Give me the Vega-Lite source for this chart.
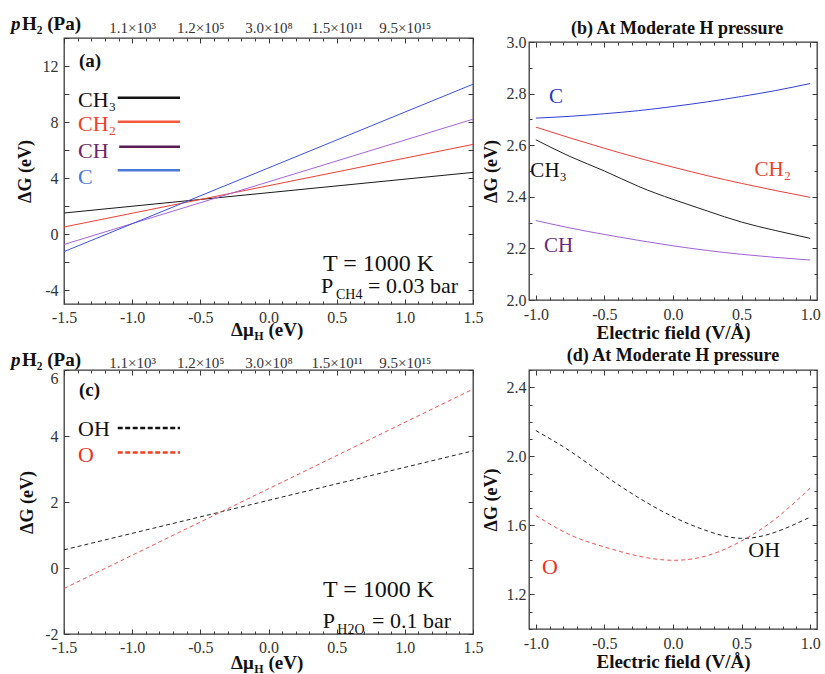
{
  "$schema": "https://vega.github.io/schema/vega-lite/v6.json",
  "background": "white",
  "padding": {"left": 10, "top": 14, "right": 0, "bottom": 0},
  "columns": 2,
  "spacing": {"row": 66, "column": 56},
  "bounds": "flush",
  "center": true,
  "config": {
    "font": "Liberation Serif",
    "view": {"stroke": "#3a3a3a", "strokeWidth": 1.3},
    "style": {
      "guide-label": {"font": "Liberation Serif"},
      "guide-title": {"font": "Liberation Serif"}
    },
    "axis": {
      "domain": false, "grid": false,
      "labelFont": "Liberation Serif", "labelFontSize": 16, "labelColor": "#333",
      "labelOverlap": false, "labelFlush": false,
      "tickColor": "#3a3a3a", "tickWidth": 1,
      "titleFont": "Liberation Serif", "titleFontSize": 18, "titleFontWeight": "bold", "titleColor": "#111"
    },
    "text": {"font": "Liberation Serif"}
  },
  "datasets": {
    "a_lines": [
      {"species": "CH3", "x": -1.5, "y": 1.5}, {"species": "CH3", "x": 1.5, "y": 4.4},
      {"species": "CH2", "x": -1.5, "y": 0.5}, {"species": "CH2", "x": 1.5, "y": 6.4},
      {"species": "CH", "x": -1.5, "y": -0.75}, {"species": "CH", "x": 1.5, "y": 8.2},
      {"species": "C", "x": -1.5, "y": -1.26}, {"species": "C", "x": 1.5, "y": 10.7}
    ],
    "a_key": [
      {"species": "CH3", "x1": -1.106, "x2": -0.649, "y": 9.74},
      {"species": "CH2", "x1": -1.106, "x2": -0.649, "y": 8.02},
      {"species": "CH", "x1": -1.095, "x2": -0.649, "y": 6.24},
      {"species": "C", "x1": -1.106, "x2": -0.649, "y": 4.55}
    ],
    "a_key_text": [
      {"species": "CH3", "text": "CH₃", "x": -1.397, "y": 9.07},
      {"species": "CH2", "text": "CH₂", "x": -1.397, "y": 7.36},
      {"species": "CH", "text": "CH", "x": -1.397, "y": 5.45},
      {"species": "C", "text": "C", "x": -1.397, "y": 3.57}
    ],
    "b_lines": [
      {"species": "C", "x": -1, "y": 2.705}, {"species": "C", "x": -0.75, "y": 2.712}, {"species": "C", "x": -0.5, "y": 2.722},
      {"species": "C", "x": -0.25, "y": 2.734}, {"species": "C", "x": 0, "y": 2.75}, {"species": "C", "x": 0.25, "y": 2.768},
      {"species": "C", "x": 0.5, "y": 2.789}, {"species": "C", "x": 0.75, "y": 2.812}, {"species": "C", "x": 1, "y": 2.839},
      {"species": "CH2", "x": -1, "y": 2.67}, {"species": "CH2", "x": -0.75, "y": 2.628}, {"species": "CH2", "x": -0.5, "y": 2.588},
      {"species": "CH2", "x": -0.25, "y": 2.55}, {"species": "CH2", "x": 0, "y": 2.515}, {"species": "CH2", "x": 0.25, "y": 2.482},
      {"species": "CH2", "x": 0.5, "y": 2.452}, {"species": "CH2", "x": 0.75, "y": 2.424}, {"species": "CH2", "x": 1, "y": 2.398},
      {"species": "CH3", "x": -1, "y": 2.621}, {"species": "CH3", "x": -0.75, "y": 2.556}, {"species": "CH3", "x": -0.5, "y": 2.5},
      {"species": "CH3", "x": -0.25, "y": 2.44}, {"species": "CH3", "x": 0, "y": 2.39}, {"species": "CH3", "x": 0.25, "y": 2.345},
      {"species": "CH3", "x": 0.5, "y": 2.302}, {"species": "CH3", "x": 0.75, "y": 2.269}, {"species": "CH3", "x": 1, "y": 2.239},
      {"species": "CH", "x": -1, "y": 2.308}, {"species": "CH", "x": -0.75, "y": 2.279}, {"species": "CH", "x": -0.5, "y": 2.254},
      {"species": "CH", "x": -0.25, "y": 2.231}, {"species": "CH", "x": 0, "y": 2.21}, {"species": "CH", "x": 0.25, "y": 2.192},
      {"species": "CH", "x": 0.5, "y": 2.177}, {"species": "CH", "x": 0.75, "y": 2.165}, {"species": "CH", "x": 1, "y": 2.155}
    ],
    "b_text": [
      {"species": "C", "text": "C", "x": -0.905, "y": 2.762},
      {"species": "CH3", "text": "CH₃", "x": -1.04, "y": 2.476},
      {"species": "CH2", "text": "CH₂", "x": 0.595, "y": 2.479},
      {"species": "CH", "text": "CH", "x": -0.94, "y": 2.185}
    ],
    "c_lines": [
      {"species": "OH", "x": -1.5, "y": 0.55}, {"species": "OH", "x": 1.5, "y": 3.55},
      {"species": "O", "x": -1.5, "y": -0.62}, {"species": "O", "x": 1.5, "y": 5.42}
    ],
    "c_key": [
      {"species": "OH", "x1": -1.106, "x2": -0.649, "y": 4.24},
      {"species": "O", "x1": -1.106, "x2": -0.649, "y": 3.5}
    ],
    "c_key_text": [
      {"species": "OH", "text": "OH", "x": -1.397, "y": 3.99},
      {"species": "O", "text": "O", "x": -1.397, "y": 3.2}
    ],
    "d_lines": [
      {"species": "OH", "x": -1, "y": 2.149}, {"species": "OH", "x": -0.75, "y": 2.03}, {"species": "OH", "x": -0.5, "y": 1.89},
      {"species": "OH", "x": -0.25, "y": 1.76}, {"species": "OH", "x": 0, "y": 1.65}, {"species": "OH", "x": 0.25, "y": 1.568},
      {"species": "OH", "x": 0.5, "y": 1.525}, {"species": "OH", "x": 0.75, "y": 1.562}, {"species": "OH", "x": 1, "y": 1.648},
      {"species": "O", "x": -1, "y": 1.657}, {"species": "O", "x": -0.75, "y": 1.545}, {"species": "O", "x": -0.5, "y": 1.475},
      {"species": "O", "x": -0.25, "y": 1.422}, {"species": "O", "x": 0, "y": 1.398}, {"species": "O", "x": 0.25, "y": 1.425},
      {"species": "O", "x": 0.5, "y": 1.51}, {"species": "O", "x": 0.75, "y": 1.64}, {"species": "O", "x": 1, "y": 1.816}
    ],
    "d_text": [
      {"species": "O", "text": "O", "x": -0.956, "y": 1.32},
      {"species": "OH", "text": "OH", "x": 0.549, "y": 1.418}
    ]
  },
  "concat": [
    {
      "width": 409, "height": 266,
      "resolve": {"scale": {"color": "independent"}, "axis": {"x": "independent", "y": "independent"}},
      "layer": [
        {
          "data": {"name": "a_lines"},
          "mark": {"type": "line", "strokeWidth": 1},
          "encoding": {
            "x": {"field": "x", "type": "quantitative", "scale": {"domain": [-1.5, 1.5], "nice": false, "zero": false},
              "axis": {"orient": "bottom", "title": null, "labelFont": "Liberation Serif",
                "values": [-1.5,-1.4,-1.3,-1.2,-1.1,-1,-0.9,-0.8,-0.7,-0.6,-0.5,-0.4,-0.3,-0.2,-0.1,0,0.1,0.2,0.3,0.4,0.5,0.6,0.7,0.8,0.9,1,1.1,1.2,1.3,1.4,1.5],
                "labelExpr": "abs(datum.value*2-round(datum.value*2))<0.001 ? (datum.value<0?'-':'')+format(abs(datum.value),'.1f') : ''",
                "tickSize": {"condition": {"test": "abs(datum.value*2-round(datum.value*2))<0.001", "value": -5}, "value": -3},
                "labelPadding": 10}},
            "y": {"field": "y", "type": "quantitative", "scale": {"domain": [-5, 14], "nice": false, "zero": false},
              "axis": {"orient": "left", "title": "ΔG (eV)", "titlePadding": 8, "labelFont": "Liberation Serif",
                "values": [-4,-2,0,2,4,6,8,10,12,14],
                "labelExpr": "datum.value%4==0 ? (datum.value<0?'-':'')+format(abs(datum.value),'d') : ''",
                "tickSize": -5, "labelPadding": 11}},
            "color": {"field": "species", "type": "nominal", "legend": null,
              "scale": {"domain": ["CH3","CH2","CH","C"], "range": ["#1a1a1a","#ee4035","#a464dc","#3b52e0"]}}
          }
        },
        {
          "data": {"name": "a_key"},
          "mark": {"type": "rule", "strokeWidth": 2.5},
          "encoding": {
            "x": {"field": "x1", "type": "quantitative", "scale": {"domain": [-1.5, 1.5], "nice": false, "zero": false},
              "axis": {"orient": "top", "title": null, "labelFont": "Liberation Serif",
                "values": [-1.5,-1.4,-1.3,-1.2,-1.1,-1,-0.9,-0.8,-0.7,-0.6,-0.5,-0.4,-0.3,-0.2,-0.1,0,0.1,0.2,0.3,0.4,0.5,0.6,0.7,0.8,0.9,1,1.1,1.2,1.3,1.4,1.5],
                "labelExpr": "datum.value==-1 ? '1.1×10³' : datum.value==-0.5 ? '1.2×10⁵' : datum.value==0 ? '3.0×10⁸' : datum.value==0.5 ? '1.5×10¹¹' : datum.value==1 ? '9.5×10¹⁵' : ''",
                "labelFontSize": 15, "labelBaseline": "alphabetic",
                "tickSize": {"condition": {"test": "abs(datum.value*2-round(datum.value*2))<0.001", "value": -5}, "value": -3},
                "labelPadding": 11}},
            "x2": {"field": "x2"},
            "y": {"field": "y", "type": "quantitative", "scale": {"domain": [-5, 14], "nice": false, "zero": false},
              "axis": {"orient": "right", "title": null, "labels": false, "values": [-4,-2,0,2,4,6,8,10,12,14], "tickSize": -5}},
            "color": {"field": "species", "type": "nominal", "legend": null,
              "scale": {"domain": ["CH3","CH2","CH","C"], "range": ["#111111","#f25a3c","#5b1b55","#4a7ad6"]}}
          }
        },
        {
          "data": {"name": "a_key_text"},
          "mark": {"type": "text", "fontSize": 22, "align": "left", "baseline": "alphabetic"},
          "encoding": {
            "x": {"field": "x", "type": "quantitative", "axis": null, "scale": {"domain": [-1.5, 1.5], "nice": false, "zero": false}},
            "y": {"field": "y", "type": "quantitative", "axis": null, "scale": {"domain": [-5, 14], "nice": false, "zero": false}},
            "text": {"field": "text"},
            "color": {"field": "species", "type": "nominal", "legend": null,
              "scale": {"domain": ["CH3","CH2","CH","C"], "range": ["#111111","#f0402a","#6a2868","#4a78d8"]}}
          }
        },
        {
          "data": {"values": [{"text": "T = 1000 K", "x": 0.4, "y": -2.65}]},
          "mark": {"type": "text", "fontSize": 24, "align": "left", "baseline": "alphabetic", "color": "#111"},
          "encoding": {
            "x": {"field": "x", "type": "quantitative", "axis": null, "scale": {"domain": [-1.5, 1.5], "nice": false, "zero": false}},
            "y": {"field": "y", "type": "quantitative", "axis": null, "scale": {"domain": [-5, 14], "nice": false, "zero": false}},
            "text": {"field": "text"}
          }
        },
        {
          "data": {"values": [
            {"text": "P", "x": 0.385, "y": -4.19},
            {"text": "= 0.03 bar", "x": 0.73, "y": -4.19}
          ]},
          "mark": {"type": "text", "fontSize": 22, "align": "left", "baseline": "alphabetic", "color": "#111"},
          "encoding": {
            "x": {"field": "x", "type": "quantitative", "axis": null, "scale": {"domain": [-1.5, 1.5], "nice": false, "zero": false}},
            "y": {"field": "y", "type": "quantitative", "axis": null, "scale": {"domain": [-5, 14], "nice": false, "zero": false}},
            "text": {"field": "text"}
          }
        },
        {
          "data": {"values": [{"text": "CH4", "x": 0.495, "y": -4.64}]},
          "mark": {"type": "text", "fontSize": 14, "align": "left", "baseline": "alphabetic", "color": "#111"},
          "encoding": {
            "x": {"field": "x", "type": "quantitative", "axis": null, "scale": {"domain": [-1.5, 1.5], "nice": false, "zero": false}},
            "y": {"field": "y", "type": "quantitative", "axis": null, "scale": {"domain": [-5, 14], "nice": false, "zero": false}},
            "text": {"field": "text"}
          }
        },
        {
          "data": {"values": [
            {"text": "(a)", "x": -1.39, "y": 11.93},
            {"text": "Δμ", "x": -0.275, "y": -7.3},
            {"text": "(eV)", "x": 0.0, "y": -7.3},
            {"text": "H₂ (Pa)", "x": -1.808, "y": 14.57}
          ]},
          "mark": {"type": "text", "fontSize": 19, "fontWeight": "bold", "align": "left", "baseline": "alphabetic", "color": "#111"},
          "encoding": {
            "x": {"field": "x", "type": "quantitative", "axis": null, "scale": {"domain": [-1.5, 1.5], "nice": false, "zero": false}},
            "y": {"field": "y", "type": "quantitative", "axis": null, "scale": {"domain": [-5, 14], "nice": false, "zero": false}},
            "text": {"field": "text"}
          }
        },
        {
          "data": {"values": [{"text": "H", "x": -0.105, "y": -7.59}]},
          "mark": {"type": "text", "fontSize": 12, "fontWeight": "bold", "align": "left", "baseline": "alphabetic", "color": "#111"},
          "encoding": {
            "x": {"field": "x", "type": "quantitative", "axis": null, "scale": {"domain": [-1.5, 1.5], "nice": false, "zero": false}},
            "y": {"field": "y", "type": "quantitative", "axis": null, "scale": {"domain": [-5, 14], "nice": false, "zero": false}},
            "text": {"field": "text"}
          }
        },
        {
          "data": {"values": [{"text": "p", "x": -1.889, "y": 14.57}]},
          "mark": {"type": "text", "fontSize": 19, "fontWeight": "bold", "fontStyle": "italic", "align": "left", "baseline": "alphabetic", "color": "#111"},
          "encoding": {
            "x": {"field": "x", "type": "quantitative", "axis": null, "scale": {"domain": [-1.5, 1.5], "nice": false, "zero": false}},
            "y": {"field": "y", "type": "quantitative", "axis": null, "scale": {"domain": [-5, 14], "nice": false, "zero": false}},
            "text": {"field": "text"}
          }
        }
      ]
    },
    {
      "width": 288, "height": 258,
      "resolve": {"scale": {"color": "independent"}, "axis": {"x": "independent", "y": "independent"}},
      "layer": [
        {
          "data": {"name": "b_lines"},
          "mark": {"type": "line", "strokeWidth": 1, "interpolate": "natural"},
          "encoding": {
            "x": {"field": "x", "type": "quantitative", "scale": {"domain": [-1.05, 1.05], "nice": false, "zero": false},
              "axis": {"orient": "bottom", "title": "Electric field (V/Å)", "titleFontSize": 19, "titlePadding": -1, "labelFont": "Liberation Serif",
                "values": [-1,-0.9,-0.8,-0.7,-0.6,-0.5,-0.4,-0.3,-0.2,-0.1,0,0.1,0.2,0.3,0.4,0.5,0.6,0.7,0.8,0.9,1],
                "labelExpr": "abs(datum.value*2-round(datum.value*2))<0.001 ? (datum.value<0?'-':'')+format(abs(datum.value),'.1f') : ''",
                "tickSize": {"condition": {"test": "abs(datum.value*2-round(datum.value*2))<0.001", "value": -5}, "value": -3},
                "labelPadding": 11}},
            "y": {"field": "y", "type": "quantitative", "scale": {"domain": [2, 3], "nice": false, "zero": false},
              "axis": {"orient": "left", "title": "ΔG (eV)", "titlePadding": 6, "labelFont": "Liberation Serif",
                "values": [2,2.1,2.2,2.3,2.4,2.5,2.6,2.7,2.8,2.9,3],
                "labelExpr": "abs(datum.value*5-round(datum.value*5))<0.001 ? format(datum.value,'.1f') : ''",
                "tickSize": {"condition": {"test": "abs(datum.value*5-round(datum.value*5))<0.001", "value": -5}, "value": -3},
                "labelPadding": 8}},
            "color": {"field": "species", "type": "nominal", "legend": null,
              "scale": {"domain": ["C","CH2","CH3","CH"], "range": ["#2f3fd8","#e8403a","#222222","#a060d8"]}}
          }
        },
        {
          "data": {"name": "b_text"},
          "mark": {"type": "text", "fontSize": 21, "align": "left", "baseline": "alphabetic"},
          "encoding": {
            "x": {"field": "x", "type": "quantitative", "scale": {"domain": [-1.05, 1.05], "nice": false, "zero": false},
              "axis": {"orient": "top", "title": null, "labels": false,
                "values": [-1,-0.9,-0.8,-0.7,-0.6,-0.5,-0.4,-0.3,-0.2,-0.1,0,0.1,0.2,0.3,0.4,0.5,0.6,0.7,0.8,0.9,1],
                "tickSize": {"condition": {"test": "abs(datum.value*2-round(datum.value*2))<0.001", "value": -5}, "value": -3}}},
            "y": {"field": "y", "type": "quantitative", "scale": {"domain": [2, 3], "nice": false, "zero": false},
              "axis": {"orient": "right", "title": null, "labels": false,
                "values": [2,2.1,2.2,2.3,2.4,2.5,2.6,2.7,2.8,2.9,3],
                "tickSize": {"condition": {"test": "abs(datum.value*5-round(datum.value*5))<0.001", "value": -5}, "value": -3}}},
            "text": {"field": "text"},
            "color": {"field": "species", "type": "nominal", "legend": null,
              "scale": {"domain": ["C","CH3","CH2","CH"], "range": ["#2838c8","#111111","#e8402a","#6a2a7a"]}}
          }
        },
        {
          "data": {"values": [{"text": "(b) At Moderate H pressure", "x": 0.03, "y": 3.031}]},
          "mark": {"type": "text", "fontSize": 18, "fontWeight": "bold", "align": "center", "baseline": "alphabetic", "color": "#111"},
          "encoding": {
            "x": {"field": "x", "type": "quantitative", "axis": null, "scale": {"domain": [-1.05, 1.05], "nice": false, "zero": false}},
            "y": {"field": "y", "type": "quantitative", "axis": null, "scale": {"domain": [2, 3], "nice": false, "zero": false}},
            "text": {"field": "text"}
          }
        }
      ]
    },
    {
      "width": 409, "height": 264,
      "resolve": {"scale": {"color": "independent"}, "axis": {"x": "independent", "y": "independent"}},
      "layer": [
        {
          "data": {"name": "c_lines"},
          "mark": {"type": "line", "strokeWidth": 1, "strokeDash": [4, 3]},
          "encoding": {
            "x": {"field": "x", "type": "quantitative", "scale": {"domain": [-1.5, 1.5], "nice": false, "zero": false},
              "axis": {"orient": "bottom", "title": null, "labelFont": "Liberation Serif",
                "values": [-1.5,-1.4,-1.3,-1.2,-1.1,-1,-0.9,-0.8,-0.7,-0.6,-0.5,-0.4,-0.3,-0.2,-0.1,0,0.1,0.2,0.3,0.4,0.5,0.6,0.7,0.8,0.9,1,1.1,1.2,1.3,1.4,1.5],
                "labelExpr": "abs(datum.value*2-round(datum.value*2))<0.001 ? (datum.value<0?'-':'')+format(abs(datum.value),'.1f') : ''",
                "tickSize": {"condition": {"test": "abs(datum.value*2-round(datum.value*2))<0.001", "value": -5}, "value": -3},
                "labelPadding": 10}},
            "y": {"field": "y", "type": "quantitative", "scale": {"domain": [-2, 6], "nice": false, "zero": false},
              "axis": {"orient": "left", "title": "ΔG (eV)", "titlePadding": 8, "labelFont": "Liberation Serif",
                "values": [-2,0,2,4,6],
                "labelExpr": "(datum.value<0?'-':'')+format(abs(datum.value),'d')",
                "labelBaseline": {"condition": {"test": "datum.value==6", "value": "top"}, "value": "middle"},
                "tickSize": -5, "labelPadding": 11}},
            "color": {"field": "species", "type": "nominal", "legend": null,
              "scale": {"domain": ["OH","O"], "range": ["#222222","#f05050"]}}
          }
        },
        {
          "data": {"name": "c_key"},
          "mark": {"type": "rule", "strokeWidth": 2.5, "strokeDash": [5, 2.5]},
          "encoding": {
            "x": {"field": "x1", "type": "quantitative", "scale": {"domain": [-1.5, 1.5], "nice": false, "zero": false},
              "axis": {"orient": "top", "title": null, "labelFont": "Liberation Serif",
                "values": [-1.5,-1.4,-1.3,-1.2,-1.1,-1,-0.9,-0.8,-0.7,-0.6,-0.5,-0.4,-0.3,-0.2,-0.1,0,0.1,0.2,0.3,0.4,0.5,0.6,0.7,0.8,0.9,1,1.1,1.2,1.3,1.4,1.5],
                "labelExpr": "datum.value==-1 ? '1.1×10³' : datum.value==-0.5 ? '1.2×10⁵' : datum.value==0 ? '3.0×10⁸' : datum.value==0.5 ? '1.5×10¹¹' : datum.value==1 ? '9.5×10¹⁵' : ''",
                "labelFontSize": 15, "labelBaseline": "alphabetic",
                "tickSize": {"condition": {"test": "abs(datum.value*2-round(datum.value*2))<0.001", "value": -5}, "value": -3},
                "labelPadding": 8}},
            "x2": {"field": "x2"},
            "y": {"field": "y", "type": "quantitative", "scale": {"domain": [-2, 6], "nice": false, "zero": false},
              "axis": {"orient": "right", "title": null, "labels": false, "values": [-2,0,2,4,6], "tickSize": -5}},
            "color": {"field": "species", "type": "nominal", "legend": null,
              "scale": {"domain": ["OH","O"], "range": ["#111111","#f04020"]}}
          }
        },
        {
          "data": {"name": "c_key_text"},
          "mark": {"type": "text", "fontSize": 22, "align": "left", "baseline": "alphabetic"},
          "encoding": {
            "x": {"field": "x", "type": "quantitative", "axis": null, "scale": {"domain": [-1.5, 1.5], "nice": false, "zero": false}},
            "y": {"field": "y", "type": "quantitative", "axis": null, "scale": {"domain": [-2, 6], "nice": false, "zero": false}},
            "text": {"field": "text"},
            "color": {"field": "species", "type": "nominal", "legend": null,
              "scale": {"domain": ["OH","O"], "range": ["#111111","#f03020"]}}
          }
        },
        {
          "data": {"values": [{"text": "T = 1000 K", "x": 0.4, "y": -0.88}]},
          "mark": {"type": "text", "fontSize": 24, "align": "left", "baseline": "alphabetic", "color": "#111"},
          "encoding": {
            "x": {"field": "x", "type": "quantitative", "axis": null, "scale": {"domain": [-1.5, 1.5], "nice": false, "zero": false}},
            "y": {"field": "y", "type": "quantitative", "axis": null, "scale": {"domain": [-2, 6], "nice": false, "zero": false}},
            "text": {"field": "text"}
          }
        },
        {
          "data": {"values": [
            {"text": "P", "x": 0.398, "y": -1.83},
            {"text": "= 0.1 bar", "x": 0.76, "y": -1.83}
          ]},
          "mark": {"type": "text", "fontSize": 22, "align": "left", "baseline": "alphabetic", "color": "#111"},
          "encoding": {
            "x": {"field": "x", "type": "quantitative", "axis": null, "scale": {"domain": [-1.5, 1.5], "nice": false, "zero": false}},
            "y": {"field": "y", "type": "quantitative", "axis": null, "scale": {"domain": [-2, 6], "nice": false, "zero": false}},
            "text": {"field": "text"}
          }
        },
        {
          "data": {"values": [{"text": "H2O", "x": 0.505, "y": -2.01}]},
          "mark": {"type": "text", "fontSize": 14, "align": "left", "baseline": "alphabetic", "color": "#111"},
          "encoding": {
            "x": {"field": "x", "type": "quantitative", "axis": null, "scale": {"domain": [-1.5, 1.5], "nice": false, "zero": false}},
            "y": {"field": "y", "type": "quantitative", "axis": null, "scale": {"domain": [-2, 6], "nice": false, "zero": false}},
            "text": {"field": "text"}
          }
        },
        {
          "data": {"values": [
            {"text": "(c)", "x": -1.39, "y": 5.21},
            {"text": "Δμ", "x": -0.275, "y": -3.06},
            {"text": "(eV)", "x": 0.0, "y": -3.06},
            {"text": "H₂ (Pa)", "x": -1.808, "y": 6.12}
          ]},
          "mark": {"type": "text", "fontSize": 19, "fontWeight": "bold", "align": "left", "baseline": "alphabetic", "color": "#111"},
          "encoding": {
            "x": {"field": "x", "type": "quantitative", "axis": null, "scale": {"domain": [-1.5, 1.5], "nice": false, "zero": false}},
            "y": {"field": "y", "type": "quantitative", "axis": null, "scale": {"domain": [-2, 6], "nice": false, "zero": false}},
            "text": {"field": "text"}
          }
        },
        {
          "data": {"values": [{"text": "H", "x": -0.105, "y": -3.18}]},
          "mark": {"type": "text", "fontSize": 12, "fontWeight": "bold", "align": "left", "baseline": "alphabetic", "color": "#111"},
          "encoding": {
            "x": {"field": "x", "type": "quantitative", "axis": null, "scale": {"domain": [-1.5, 1.5], "nice": false, "zero": false}},
            "y": {"field": "y", "type": "quantitative", "axis": null, "scale": {"domain": [-2, 6], "nice": false, "zero": false}},
            "text": {"field": "text"}
          }
        },
        {
          "data": {"values": [{"text": "p", "x": -1.889, "y": 6.12}]},
          "mark": {"type": "text", "fontSize": 19, "fontWeight": "bold", "fontStyle": "italic", "align": "left", "baseline": "alphabetic", "color": "#111"},
          "encoding": {
            "x": {"field": "x", "type": "quantitative", "axis": null, "scale": {"domain": [-1.5, 1.5], "nice": false, "zero": false}},
            "y": {"field": "y", "type": "quantitative", "axis": null, "scale": {"domain": [-2, 6], "nice": false, "zero": false}},
            "text": {"field": "text"}
          }
        }
      ]
    },
    {
      "width": 288, "height": 259,
      "resolve": {"scale": {"color": "independent"}, "axis": {"x": "independent", "y": "independent"}},
      "layer": [
        {
          "data": {"name": "d_lines"},
          "mark": {"type": "line", "strokeWidth": 1, "strokeDash": [4, 3], "interpolate": "natural"},
          "encoding": {
            "x": {"field": "x", "type": "quantitative", "scale": {"domain": [-1.05, 1.05], "nice": false, "zero": false},
              "axis": {"orient": "bottom", "title": "Electric field (V/Å)", "titleFontSize": 19, "titlePadding": -1, "labelFont": "Liberation Serif",
                "values": [-1,-0.9,-0.8,-0.7,-0.6,-0.5,-0.4,-0.3,-0.2,-0.1,0,0.1,0.2,0.3,0.4,0.5,0.6,0.7,0.8,0.9,1],
                "labelExpr": "abs(datum.value*2-round(datum.value*2))<0.001 ? (datum.value<0?'-':'')+format(abs(datum.value),'.1f') : ''",
                "tickSize": {"condition": {"test": "abs(datum.value*2-round(datum.value*2))<0.001", "value": -5}, "value": -3},
                "labelPadding": 11}},
            "y": {"field": "y", "type": "quantitative", "scale": {"domain": [1, 2.5], "nice": false, "zero": false},
              "axis": {"orient": "left", "title": "ΔG (eV)", "titlePadding": 6, "labelFont": "Liberation Serif",
                "values": [1,1.1,1.2,1.3,1.4,1.5,1.6,1.7,1.8,1.9,2,2.1,2.2,2.3,2.4,2.5],
                "labelExpr": "abs((datum.value-1.2)/0.4-round((datum.value-1.2)/0.4))<0.001 ? format(datum.value,'.1f') : ''",
                "tickSize": {"condition": {"test": "abs((datum.value-1.2)/0.4-round((datum.value-1.2)/0.4))<0.001", "value": -5}, "value": -3},
                "labelPadding": 8}},
            "color": {"field": "species", "type": "nominal", "legend": null,
              "scale": {"domain": ["OH","O"], "range": ["#222222","#f05050"]}}
          }
        },
        {
          "data": {"name": "d_text"},
          "mark": {"type": "text", "fontSize": 22, "align": "left", "baseline": "alphabetic"},
          "encoding": {
            "x": {"field": "x", "type": "quantitative", "scale": {"domain": [-1.05, 1.05], "nice": false, "zero": false},
              "axis": {"orient": "top", "title": null, "labels": false,
                "values": [-1,-0.9,-0.8,-0.7,-0.6,-0.5,-0.4,-0.3,-0.2,-0.1,0,0.1,0.2,0.3,0.4,0.5,0.6,0.7,0.8,0.9,1],
                "tickSize": {"condition": {"test": "abs(datum.value*2-round(datum.value*2))<0.001", "value": -5}, "value": -3}}},
            "y": {"field": "y", "type": "quantitative", "scale": {"domain": [1, 2.5], "nice": false, "zero": false},
              "axis": {"orient": "right", "title": null, "labels": false,
                "values": [1,1.1,1.2,1.3,1.4,1.5,1.6,1.7,1.8,1.9,2,2.1,2.2,2.3,2.4,2.5],
                "tickSize": {"condition": {"test": "abs((datum.value-1.2)/0.4-round((datum.value-1.2)/0.4))<0.001", "value": -5}, "value": -3}}},
            "text": {"field": "text"},
            "color": {"field": "species", "type": "nominal", "legend": null,
              "scale": {"domain": ["O","OH"], "range": ["#f03020","#111111"]}}
          }
        },
        {
          "data": {"values": [{"text": "(d) At Moderate H pressure", "x": 0.0, "y": 2.552}]},
          "mark": {"type": "text", "fontSize": 18, "fontWeight": "bold", "align": "center", "baseline": "alphabetic", "color": "#111"},
          "encoding": {
            "x": {"field": "x", "type": "quantitative", "axis": null, "scale": {"domain": [-1.05, 1.05], "nice": false, "zero": false}},
            "y": {"field": "y", "type": "quantitative", "axis": null, "scale": {"domain": [1, 2.5], "nice": false, "zero": false}},
            "text": {"field": "text"}
          }
        }
      ]
    }
  ]
}
